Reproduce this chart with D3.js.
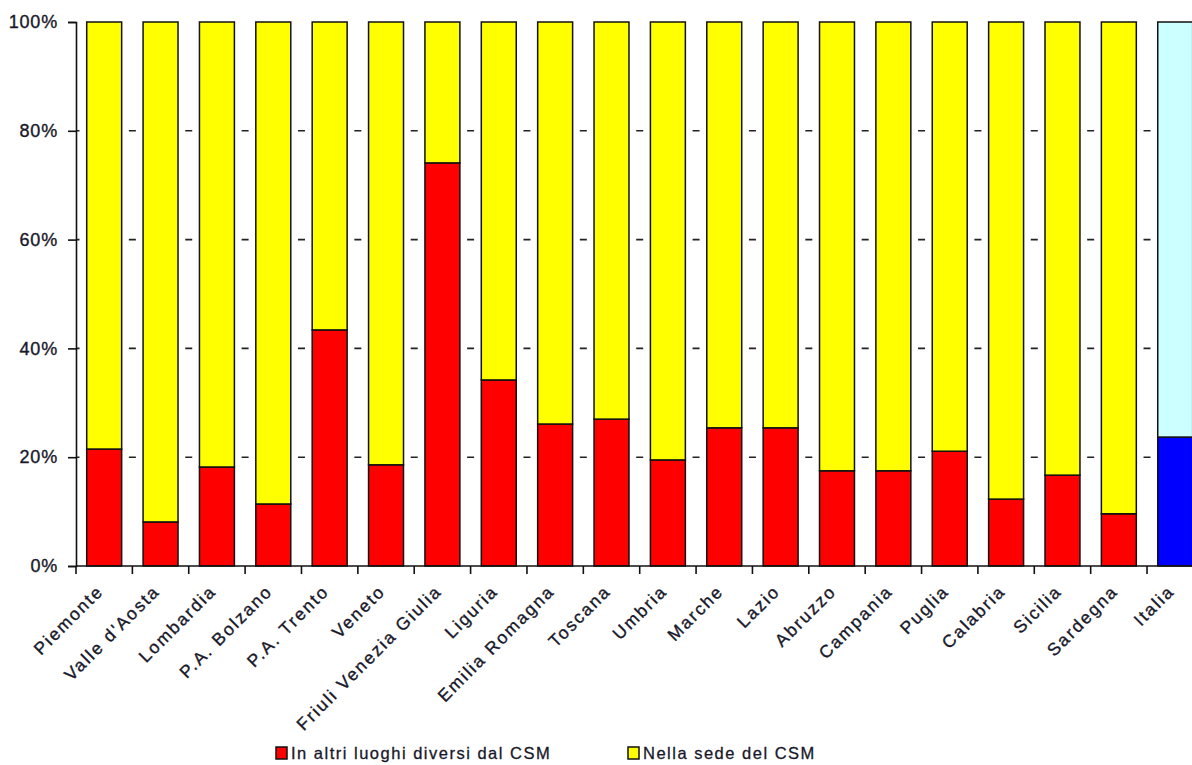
<!DOCTYPE html>
<html>
<head>
<meta charset="utf-8">
<script src="https://cdn.jsdelivr.net/npm/d3@7"></script>
<style>
  html, body { margin: 0; padding: 0; background: #fff; }
  svg { display: block; font-family: "Liberation Sans", Arial, sans-serif; }
</style>
</head>
<body>
<svg id="chart" width="1192" height="765"></svg>
<script>
// Regions (last one is the national total)
const regions = ["Piemonte", "Valle d'Aosta", "Lombardia", "P.A. Bolzano", "P.A. Trento",
  "Veneto", "Friuli Venezia Giulia", "Liguria", "Emilia Romagna", "Toscana", "Umbria",
  "Marche", "Lazio", "Abruzzo", "Campania", "Puglia", "Calabria", "Sicilia", "Sardegna", "Italia"];

// Share of activity carried out elsewhere than the CSM (%)
const altriLuoghi = [21.5, 8.1, 18.2, 11.4, 43.4, 18.6, 74.1, 34.2, 26.1, 27.0, 19.5,
  25.4, 25.4, 17.5, 17.5, 21.1, 12.3, 16.7, 9.6, 23.7];
// Share of activity carried out at the CSM (%)
const sedeCSM = altriLuoghi.map(v => 100 - v);

const yTicks = [0, 20, 40, 60, 80, 100];
const seriesNames = ["In altri luoghi diversi dal CSM", "Nella sede del CSM"];
const seriesColors = ["#ff0000", "#ffff00"];
const totalColors = ["#0000ff", "#ccffff"];

const svg = d3.select("#chart");
const plotLeft = 76, plotTop = 22, plotBottom = 566, step = 56.37;
const plotRight = plotLeft + step * regions.length;
const textColor = "#18182a";

const x = d3.scaleBand().domain(regions).range([plotLeft, plotRight])
  .paddingInner(0.38).paddingOuter(0.19);
const y = d3.scaleLinear().domain([0, 100]).range([plotBottom, plotTop]);

// dashed gridlines (visible only between bars)
svg.append("g").selectAll("line").data(yTicks.filter(t => t > 0 && t < 100)).join("line")
  .attr("x1", plotLeft).attr("x2", plotRight)
  .attr("y1", d => y(d)).attr("y2", d => y(d))
  .attr("stroke", "#222").attr("stroke-width", 1.6)
  .attr("stroke-dasharray", `7,${step - 7}`)
  .attr("stroke-dashoffset", -(step - 3.5));

// stacked bars
const rows = regions.map((r, i) => ({ r, a: altriLuoghi[i], s: sedeCSM[i], total: r === "Italia" }));
const bars = svg.append("g");
bars.selectAll("rect.a").data(rows).join("rect").attr("class", "a")
  .attr("x", d => x(d.r)).attr("width", x.bandwidth())
  .attr("y", d => y(d.a)).attr("height", d => y(0) - y(d.a))
  .attr("fill", d => d.total ? totalColors[0] : seriesColors[0])
  .attr("stroke", "#111").attr("stroke-width", 1.5);
bars.selectAll("rect.s").data(rows).join("rect").attr("class", "s")
  .attr("x", d => x(d.r)).attr("width", x.bandwidth())
  .attr("y", d => y(d.a + d.s)).attr("height", d => y(d.a) - y(d.a + d.s))
  .attr("fill", d => d.total ? totalColors[1] : seriesColors[1])
  .attr("stroke", "#111").attr("stroke-width", 1.5);

// y axis
const yAxis = d3.axisLeft(y).tickValues(yTicks).tickFormat(d => d + "%")
  .tickSize(8).tickPadding(10);
const gy = svg.append("g").attr("transform", `translate(${plotLeft},0)`).call(yAxis);
gy.select(".domain").attr("stroke", "#111").attr("stroke-width", 1.6);
gy.selectAll(".tick line").attr("stroke", "#111").attr("stroke-width", 1.6);
gy.selectAll(".tick text").attr("font-size", 18).attr("fill", textColor)
  .attr("stroke", textColor).attr("stroke-width", 0.35)
  .attr("font-family", "Liberation Sans, Arial, sans-serif").style("letter-spacing", "0.8px");

// x axis: line with ticks at category boundaries
const gx = svg.append("g");
gx.append("line").attr("x1", plotLeft).attr("x2", plotRight).attr("y1", plotBottom).attr("y2", plotBottom)
  .attr("stroke", "#111").attr("stroke-width", 1.6);
gx.selectAll("line.t").data(d3.range(regions.length + 1)).join("line").attr("class", "t")
  .attr("x1", k => plotLeft + k * x.step()).attr("x2", k => plotLeft + k * x.step())
  .attr("y1", plotBottom).attr("y2", plotBottom + 8)
  .attr("stroke", "#111").attr("stroke-width", 1.6);
gx.selectAll("text").data(regions).join("text")
  .attr("transform", d => `translate(${x(d) + x.bandwidth() / 2 - 4},${plotBottom + 22}) rotate(-45)`)
  .attr("text-anchor", "end").attr("dy", "0.35em")
  .attr("font-size", 17.5).attr("fill", textColor)
  .attr("stroke", textColor).attr("stroke-width", 0.35)
  .style("letter-spacing", "2px")
  .text(d => d);

// legend
const legendPos = [276, 628];
const lg = svg.append("g").selectAll("g").data(seriesNames).join("g")
  .attr("transform", (d, i) => `translate(${legendPos[i]},747)`);
lg.append("rect").attr("width", 11).attr("height", 12)
  .attr("fill", (d, i) => seriesColors[i]).attr("stroke", "#111").attr("stroke-width", 1.5);
lg.append("text").attr("x", 15).attr("y", 6).attr("dy", "0.35em")
  .attr("font-size", 16.5).attr("fill", textColor)
  .attr("stroke", textColor).attr("stroke-width", 0.3)
  .style("letter-spacing", "1.5px")
  .text(d => d);
</script>
</body>
</html>
